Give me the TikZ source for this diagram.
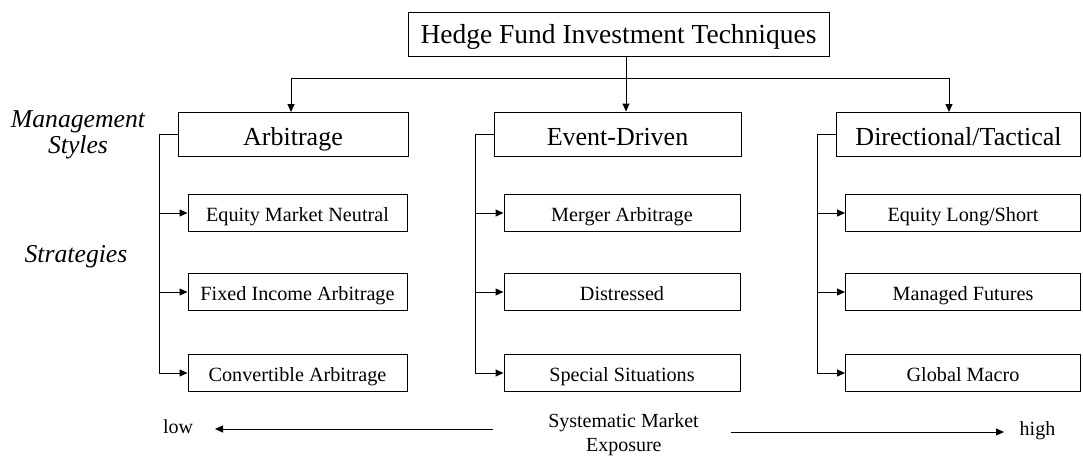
\documentclass[tikz,border=0pt]{standalone}
\usepackage{fontspec}
\setmainfont{Liberation Serif}
\usetikzlibrary{arrows.meta}
\tikzset{
  box/.style={draw, line width=1pt, inner sep=0pt, anchor=center},
  titlebox/.style={box, minimum height=44pt, font=\fontsize{27.5}{30}\selectfont, text height=21pt, text depth=2pt},
  bigbox/.style={box, minimum height=44pt, font=\fontsize{26}{29}\selectfont, text height=24pt, text depth=2pt},
  stratbox/.style={box, minimum height=37pt, font=\fontsize{20.2}{23}\selectfont, text height=17pt, text depth=0.5pt},
  conn/.style={line width=1pt},
  arr/.style={conn, -{Triangle[length=8pt,width=7pt]}},
  sidelabel/.style={font=\fontsize{25.7}{28}\selectfont\itshape, anchor=base},
  axislabel/.style={font=\fontsize{20}{24}\selectfont, anchor=base}
}
\begin{document}
\begin{tikzpicture}[x=1pt,y=-1pt]
\useasboundingbox (0,0) rectangle (1083,456);
% top
\node[titlebox, minimum width=421pt] (top) at (618.5,34) {Hedge Fund Investment Techniques};
% styles
\node[bigbox, minimum width=230pt] (arb) at (293,134) {Arbitrage};
\node[bigbox, minimum width=247pt] (evt) at (617.5,134) {Event-Driven};
\node[bigbox, minimum width=244pt] (dir) at (958.5,134) {Directional/Tactical};
% strategies
\node[stratbox, minimum width=219pt] (s11) at (297.5,213) {Equity Market Neutral};
\node[stratbox, minimum width=219pt] (s12) at (297.5,292) {Fixed Income Arbitrage};
\node[stratbox, minimum width=219pt] (s13) at (297.5,373) {Convertible Arbitrage};
\node[stratbox, minimum width=236pt] (s21) at (622,213) {Merger Arbitrage};
\node[stratbox, minimum width=236pt] (s22) at (622,292) {Distressed};
\node[stratbox, minimum width=236pt] (s23) at (622,373) {Special Situations};
\node[stratbox, minimum width=235pt] (s31) at (963,213) {Equity Long/Short};
\node[stratbox, minimum width=235pt] (s32) at (963,292) {Managed Futures};
\node[stratbox, minimum width=235pt] (s33) at (963,373) {Global Macro};
% side labels
\node[sidelabel] (mgmt1) at (78,127) {Management};
\node[sidelabel] (mgmt2) at (78,153) {Styles};
\node[sidelabel] (strat) at (76,262) {Strategies};
% axis labels
\node[axislabel] (low) at (178,433.5) {low};
\node[axislabel] (high) at (1037.5,435.5) {high};
\node[axislabel] (sys1) at (623.5,427.5) {Systematic Market};
\node[axislabel] (sys2) at (623.8,451.5) {Exposure};
% top connectors
\coordinate (j) at (626,78);
\draw[conn] (top.south -| j) -- (j);
\draw[arr] (j) -- (j |- evt.north);
\draw[arr] (j) -| (291,112);
\draw[arr] (j) -| (949,112);
% brackets
\coordinate (bA) at (159,134);
\coordinate (bB) at (475,134);
\coordinate (bC) at (817,134);
\draw[arr] (arb.west) -- (bA) |- (s13.west);
\draw[arr] (s11.west -| bA) -- (s11.west);
\draw[arr] (s12.west -| bA) -- (s12.west);
\draw[arr] (evt.west) -- (bB) |- (s23.west);
\draw[arr] (s21.west -| bB) -- (s21.west);
\draw[arr] (s22.west -| bB) -- (s22.west);
\draw[arr] (dir.west) -- (bC) |- (s33.west);
\draw[arr] (s31.west -| bC) -- (s31.west);
\draw[arr] (s32.west -| bC) -- (s32.west);
% axis arrows
\coordinate (la) at (493,429);
\coordinate (lb) at (215,429);
\coordinate (ra) at (731,432);
\coordinate (rb) at (1004,432);
\draw[arr] (la) -- (lb);
\draw[arr] (ra) -- (rb);
\end{tikzpicture}
\end{document}
